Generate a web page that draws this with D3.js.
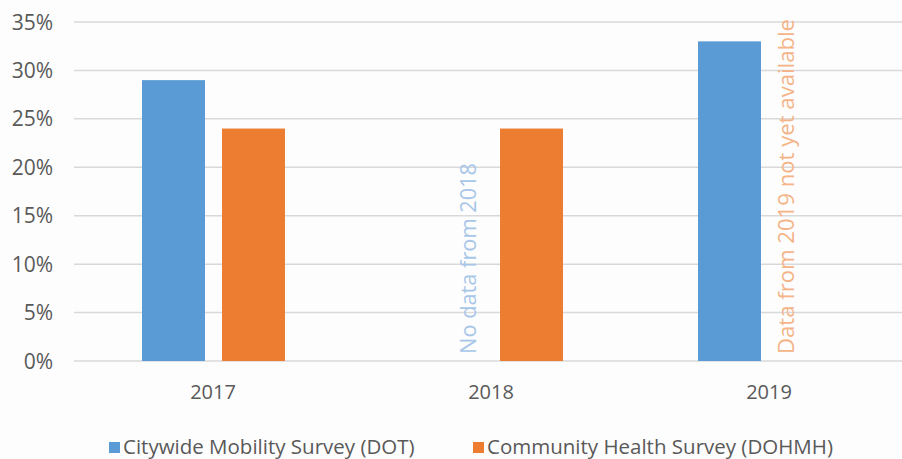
<!DOCTYPE html>
<html lang="en">

<head>
    <meta charset="UTF-8">
    <title>Survey comparison bar chart</title>
    <script src="https://d3js.org/d3.v7.min.js"></script>
    <style>
        body { margin: 0; background: #fdfdfd; }
        svg { display: block; font-family: "Open Sans", sans-serif; }
    </style>
</head>

<body>
    <svg width="902" height="459"></svg>

    <script>
        // data
        const years = ["2017", "2018", "2019"]
        const series = ["Citywide Mobility Survey (DOT)", "Community Health Survey (DOHMH)"]
        const dotValues = [0.29, null, 0.33]
        const dohmhValues = [0.24, 0.24, null]
        const yTicks = [0, 0.05, 0.10, 0.15, 0.20, 0.25, 0.30, 0.35]
        const notes = [
            { year: "2018", series: 0, text: "No data from 2018" },
            { year: "2019", series: 1, text: "Data from 2019 not yet available" }
        ]
        const colors = ["#5b9bd5", "#ed7d31"]
        const noteColors = ["#a8c6e8", "#f4b487"]

        let svg = d3.select("svg");

        let x = d3.scaleBand().domain(years).range([74, 908])
        let xs = d3.scaleBand().domain([0, 1]).range([68, 211]).paddingInner(0.2125)
        let y = d3.scaleLinear().domain([0, 0.35]).range([361, 22])

        // gridlines
        svg.append("g")
            .selectAll("line")
            .data(yTicks)
            .join("line")
            .attr("x1", 74)
            .attr("x2", 902)
            .attr("y1", d => y(d))
            .attr("y2", d => y(d))
            .attr("stroke", "#d9d9d9")
            .attr("stroke-width", 1.5)

        // y tick labels
        svg.append("g")
            .selectAll("text")
            .data(yTicks)
            .join("text")
            .attr("x", 53)
            .attr("y", d => y(d))
            .attr("dy", "0.36em")
            .attr("text-anchor", "end")
            .attr("font-size", 21)
            .attr("fill", "#595959")
            .text(d3.format(".0%"))

        // bars
        let bars = []
        years.forEach((yr, i) => {
            if (dotValues[i] != null) bars.push({ year: yr, s: 0, v: dotValues[i] })
            if (dohmhValues[i] != null) bars.push({ year: yr, s: 1, v: dohmhValues[i] })
        })

        svg.append("g")
            .selectAll("rect")
            .data(bars)
            .join("rect")
            .attr("x", d => x(d.year) + xs(d.s))
            .attr("width", xs.bandwidth())
            .attr("y", d => y(d.v))
            .attr("height", d => y(0) - y(d.v))
            .attr("fill", d => colors[d.s])

        // x labels
        svg.append("g")
            .selectAll("text")
            .data(years)
            .join("text")
            .attr("x", d => x(d) + x.bandwidth() / 2)
            .attr("y", 399)
            .attr("text-anchor", "middle")
            .attr("font-size", 20)
            .attr("fill", "#595959")
            .text(d => d)

        // rotated notes in the empty slots
        const noteShift = [24.5, -15.5]
        const noteLen = [191, 335]
        svg.append("g")
            .selectAll("text")
            .data(notes)
            .join("text")
            .attr("transform", (d, i) => {
                let cx = x(d.year) + xs(d.series) + xs.bandwidth() / 2 + noteShift[i]
                return `translate(${cx},354) rotate(-90)`
            })
            .attr("font-size", 22)
            .attr("fill", d => noteColors[d.series])
            .attr("textLength", (d, i) => noteLen[i])
            .attr("lengthAdjust", "spacingAndGlyphs")
            .text(d => d.text)

        // legend
        const legendX = [109, 473]
        let legend = svg.append("g")
            .selectAll("g")
            .data(series)
            .join("g")
            .attr("transform", (d, i) => `translate(${legendX[i]},0)`)

        legend.append("rect")
            .attr("x", 0)
            .attr("y", 442)
            .attr("width", 11)
            .attr("height", 11)
            .attr("fill", (d, i) => colors[i])

        legend.append("text")
            .attr("x", 14)
            .attr("y", 454)
            .attr("font-size", 20.5)
            .attr("fill", "#595959")
            .text(d => d)
    </script>
</body>

</html>
